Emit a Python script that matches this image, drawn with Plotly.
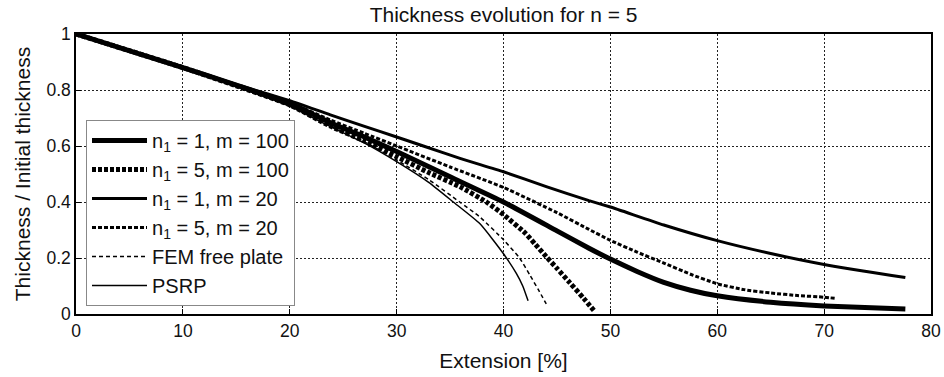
import plotly.graph_objects as go

# Extension [%] and thickness ratio for each series
x_n1_m100 = [0, 10, 15, 20, 23.8, 27, 30, 35, 40, 45, 48, 50, 52.5, 55, 57.5, 60, 65, 70, 77.6]
y_n1_m100 = [1, 0.88, 0.817, 0.752, 0.683, 0.632, 0.58, 0.49, 0.40, 0.297, 0.235, 0.196, 0.152, 0.113, 0.085, 0.065, 0.042, 0.029, 0.018]

x_n5_m100 = [0, 10, 15, 20, 23.8, 27, 30, 33, 35.9, 38.4, 40, 42, 43, 44, 45, 46.2, 47.5, 48.55]
y_n5_m100 = [1, 0.88, 0.815, 0.747, 0.671, 0.618, 0.562, 0.505, 0.455, 0.40, 0.355, 0.29, 0.248, 0.205, 0.163, 0.112, 0.056, 0.008]

x_n1_m20 = [0, 10, 15, 20, 23.8, 27, 30, 32.5, 36, 40, 44, 48, 50, 55, 60, 65, 70, 77.6]
y_n1_m20 = [1, 0.88, 0.82, 0.762, 0.711, 0.67, 0.632, 0.60, 0.555, 0.508, 0.455, 0.405, 0.382, 0.318, 0.262, 0.216, 0.177, 0.13]

x_n5_m20 = [0, 10, 15, 20, 23.8, 27, 30, 35, 40, 45, 48, 50, 52.5, 55, 57.5, 60, 62.5, 65, 67.5, 70, 71.2]
y_n5_m20 = [1, 0.88, 0.818, 0.755, 0.693, 0.645, 0.60, 0.525, 0.452, 0.362, 0.302, 0.263, 0.221, 0.182, 0.142, 0.108, 0.087, 0.075, 0.066, 0.06, 0.055]

x_fem = [0, 10, 15, 20, 23.8, 27, 30, 33, 35.9, 37.8, 40, 41.5, 42.5, 43.3, 44.0]
y_fem = [1, 0.88, 0.813, 0.745, 0.672, 0.615, 0.55, 0.48, 0.40, 0.346, 0.265, 0.20, 0.137, 0.084, 0.036]

x_psrp = [0, 10, 15, 20, 23.8, 27, 30, 33, 35.3, 37.8, 40, 41.2, 41.8, 42.3]
y_psrp = [1, 0.88, 0.812, 0.742, 0.669, 0.61, 0.544, 0.47, 0.40, 0.322, 0.215, 0.145, 0.10, 0.047]

names = [
    "n<sub>1</sub> = 1, m = 100",
    "n<sub>1</sub> = 5, m = 100",
    "n<sub>1</sub> = 1, m = 20",
    "n<sub>1</sub> = 5, m = 20",
    "FEM free plate",
    "PSRP",
]
xs = [x_n1_m100, x_n5_m100, x_n1_m20, x_n5_m20, x_fem, x_psrp]
ys = [y_n1_m100, y_n5_m100, y_n1_m20, y_n5_m20, y_fem, y_psrp]
widths = [5, 5, 3, 3, 1.5, 1.5]
dashes = ["solid", "4px,2px", "solid", "4px,2px", "4px,3px", "solid"]

x_ticks = [0, 10, 20, 30, 40, 50, 60, 70, 80]
y_ticks = [0, 0.2, 0.4, 0.6, 0.8, 1]
y_tick_text = ["0", "0.2", "0.4", "0.6", "0.8", "1"]

fig = go.Figure()
for x, y, n, w, d in zip(xs, ys, names, widths, dashes):
    fig.add_trace(go.Scatter(x=x, y=y, name=n, mode="lines",
                             line=dict(color="black", width=w, dash=d, shape="spline", smoothing=0.5)))

font_family = "Liberation Sans, Arial, sans-serif"
fig.update_layout(
    width=944, height=377,
    margin=dict(l=76, r=13, t=34, b=63),
    paper_bgcolor="white", plot_bgcolor="white",
    font=dict(family=font_family, color="black", size=17),
    title=dict(text="Thickness evolution for n = 5", x=0.5335, xanchor="center",
               y=0.962, yanchor="middle", yref="container", font=dict(size=21, color="#111")),
    showlegend=True,
    legend=dict(x=0.0117, y=0.029, xanchor="left", yanchor="bottom",
                bgcolor="white", bordercolor="#888", borderwidth=1,
                font=dict(size=20, color="#111"), itemwidth=55,
                tracegroupgap=0),
)
fig.update_xaxes(range=[0, 80], tickvals=x_ticks, showgrid=True, gridcolor="#222",
                 griddash="2px,2px", gridwidth=1, showline=True, linecolor="black", linewidth=1.5,
                 mirror=True, ticks="inside", ticklen=5, tickcolor="black", zeroline=False,
                 automargin=False, tickfont=dict(size=17.5, color="#111"),
                 title=dict(text="Extension [%]", font=dict(size=21, color="#111"), standoff=14))
fig.update_yaxes(range=[0, 1], tickvals=y_ticks, ticktext=y_tick_text, showgrid=True,
                 gridcolor="#222", griddash="2px,2px", gridwidth=1, showline=True, linecolor="black",
                 linewidth=1.5, mirror=True, ticks="inside", ticklen=5, tickcolor="black",
                 zeroline=False, automargin=False, tickfont=dict(size=17.5, color="#111"),
                 title=dict(text="Thickness / Initial thickness", font=dict(size=21, color="#111"), standoff=10))

fig.write_html("out.html")
